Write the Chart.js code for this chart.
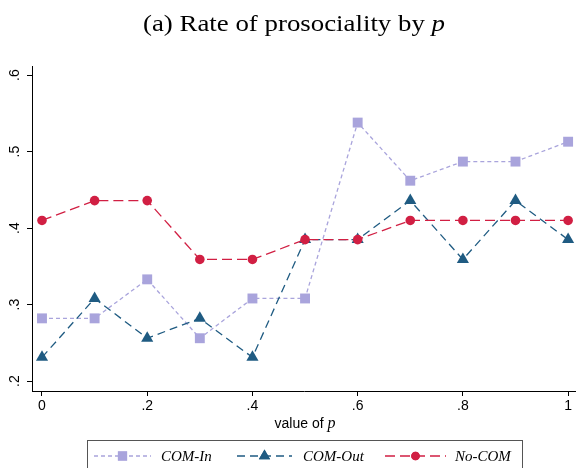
<!DOCTYPE html>
<html>
<head>
<meta charset="utf-8">
<script src="https://cdn.jsdelivr.net/npm/chart.js@4"></script>
<style>
  html, body { margin: 0; padding: 0; background: #fff; }
  #wrap { width: 576px; height: 468px; }
</style>
</head>
<body>
<div id="wrap"><canvas id="myChart" width="576" height="468"></canvas></div>
<script>
// data
const pValues = [0, 0.1, 0.2, 0.3, 0.4, 0.5, 0.6, 0.7, 0.8, 0.9, 1];
const comIn  = [0.282, 0.282, 0.333, 0.256, 0.308, 0.308, 0.538, 0.462, 0.487, 0.487, 0.513];
const comOut = [0.231, 0.308, 0.256, 0.282, 0.231, 0.385, 0.385, 0.436, 0.359, 0.436, 0.385];
const noCom  = [0.410, 0.436, 0.436, 0.359, 0.359, 0.385, 0.385, 0.410, 0.410, 0.410, 0.410];
const seriesNames = ['COM-In', 'COM-Out', 'No-COM'];
const xTicks = [0, 0.2, 0.4, 0.6, 0.8, 1];
const xTickLabels = ['0', '.2', '.4', '.6', '.8', '1'];
const yTicks = [0.2, 0.3, 0.4, 0.5, 0.6];
const yTickLabels = ['.2', '.3', '.4', '.5', '.6'];

const colors = ['#a9a4dc', '#1f5b82', '#d11f43'];
const dashes = [[4, 3], [8, 5], [10, 5]];
const shapes = ['rect', 'triangle', 'circle'];
const radii = [7, 7, 4.8];

function toPoints(arr) {
    return arr.map((v, i) => ({ x: pValues[i], y: v }));
}

const allSeries = [comIn, comOut, noCom];
const datasets = allSeries.map((s, i) => ({
    label: seriesNames[i],
    data: toPoints(s),
    borderColor: colors[i],
    backgroundColor: colors[i],
    borderWidth: 1.3,
    borderDash: dashes[i],
    pointStyle: shapes[i],
    pointRadius: radii[i],
    pointBorderWidth: 0,
    tension: 0,
    clip: false,
    order: 3 - i
}));

const sans = '"Liberation Sans", Arial, sans-serif';
const serif = '"Liberation Serif", "Times New Roman", serif';

const extras = {
    id: 'extras',
    afterDraw(chart) {
        const c = chart.ctx;
        const ys = chart.scales.y;
        c.save();
        c.fillStyle = '#000';

        // title with italic p, stretched to the reference width
        c.textBaseline = 'alphabetic';
        c.textAlign = 'left';
        c.font = '23px ' + serif;
        const t1 = '(a) Rate of prosociality by ';
        const w1 = c.measureText(t1).width;
        c.font = 'italic 23px ' + serif;
        const w2 = c.measureText('p').width;
        const sx = 302 / (w1 + w2);
        c.save();
        c.translate(143, 31);
        c.scale(sx, 1);
        c.font = '23px ' + serif;
        c.fillText(t1, 0, 0);
        c.font = 'italic 23px ' + serif;
        c.fillText('p', w1, 0);
        c.restore();

        // rotated y tick labels
        c.font = '14px ' + sans;
        c.textAlign = 'center';
        c.textBaseline = 'middle';
        yTicks.forEach((v, i) => {
            c.save();
            c.translate(15, ys.getPixelForValue(v));
            c.rotate(-Math.PI / 2);
            c.fillText(yTickLabels[i], 0, 0);
            c.restore();
        });

        // x axis title
        c.textAlign = 'left';
        c.textBaseline = 'alphabetic';
        c.font = '14px ' + sans;
        const a1 = 'value of ';
        const aw1 = c.measureText(a1).width;
        c.font = 'italic 16px ' + serif;
        const aw2 = c.measureText('p').width;
        let ax = 305 - (aw1 + aw2) / 2;
        c.font = '14px ' + sans;
        c.fillText(a1, ax, 428);
        c.font = 'italic 16px ' + serif;
        c.fillText('p', ax + aw1, 428);

        // legend box
        c.strokeStyle = '#555';
        c.lineWidth = 1;
        c.strokeRect(87.5, 440.5, 435, 40);
        const items = [
            { x0: 94, x1: 151, text: 161 },
            { x0: 237, x1: 292, text: 303 },
            { x0: 385, x1: 446, text: 455 }
        ];
        const ly = 456;
        items.forEach((it, i) => {
            c.strokeStyle = colors[i];
            c.fillStyle = colors[i];
            c.lineWidth = 1.3;
            c.setLineDash(dashes[i]);
            c.beginPath();
            c.moveTo(it.x0, ly);
            c.lineTo(it.x1, ly);
            c.stroke();
            c.setLineDash([]);
            const mx = (it.x0 + it.x1) / 2;
            Chart.helpers.drawPoint(c, { pointStyle: shapes[i], radius: radii[i] - 0.5, borderWidth: 0 }, mx, ly);
            c.fill();
            c.fillStyle = '#000';
            c.font = 'italic 15px ' + serif;
            c.textBaseline = 'middle';
            c.fillText(seriesNames[i], it.text, ly + 1);
        });
        c.restore();
    }
};

const ctx = document.getElementById('myChart');
const myChart = new Chart(ctx, {
    type: 'line',
    data: { datasets: datasets },
    options: {
        responsive: false,
        animation: false,
        layout: { autoPadding: false, padding: { top: 66, right: 0, left: 0, bottom: 0 } },
        plugins: { legend: { display: false }, tooltip: { enabled: false } },
        scales: {
            x: {
                type: 'linear',
                min: -0.019,
                max: 1.015,
                afterFit: s => { s.height = 77; s.paddingRight = 0; s.paddingLeft = 0; },
                afterBuildTicks: s => { s.ticks = xTicks.map(v => ({ value: v })); },
                ticks: {
                    autoSkip: false,
                    maxRotation: 0,
                    padding: 2,
                    color: '#000',
                    font: { family: sans, size: 14 },
                    callback: (v, i) => xTickLabels[i]
                },
                grid: { drawOnChartArea: false, drawTicks: true, tickLength: 5, color: '#000' },
                border: { display: true, color: '#000', width: 1 }
            },
            y: {
                type: 'linear',
                min: 0.187,
                max: 0.612,
                afterFit: s => { s.width = 32; s.paddingTop = 0; s.paddingBottom = 0; },
                afterBuildTicks: s => { s.ticks = yTicks.map(v => ({ value: v })); },
                ticks: { display: false },
                grid: { drawOnChartArea: false, drawTicks: true, tickLength: 5, color: '#000' },
                border: { display: true, color: '#000', width: 1 }
            }
        }
    },
    plugins: [extras]
});
</script>
</body>
</html>
